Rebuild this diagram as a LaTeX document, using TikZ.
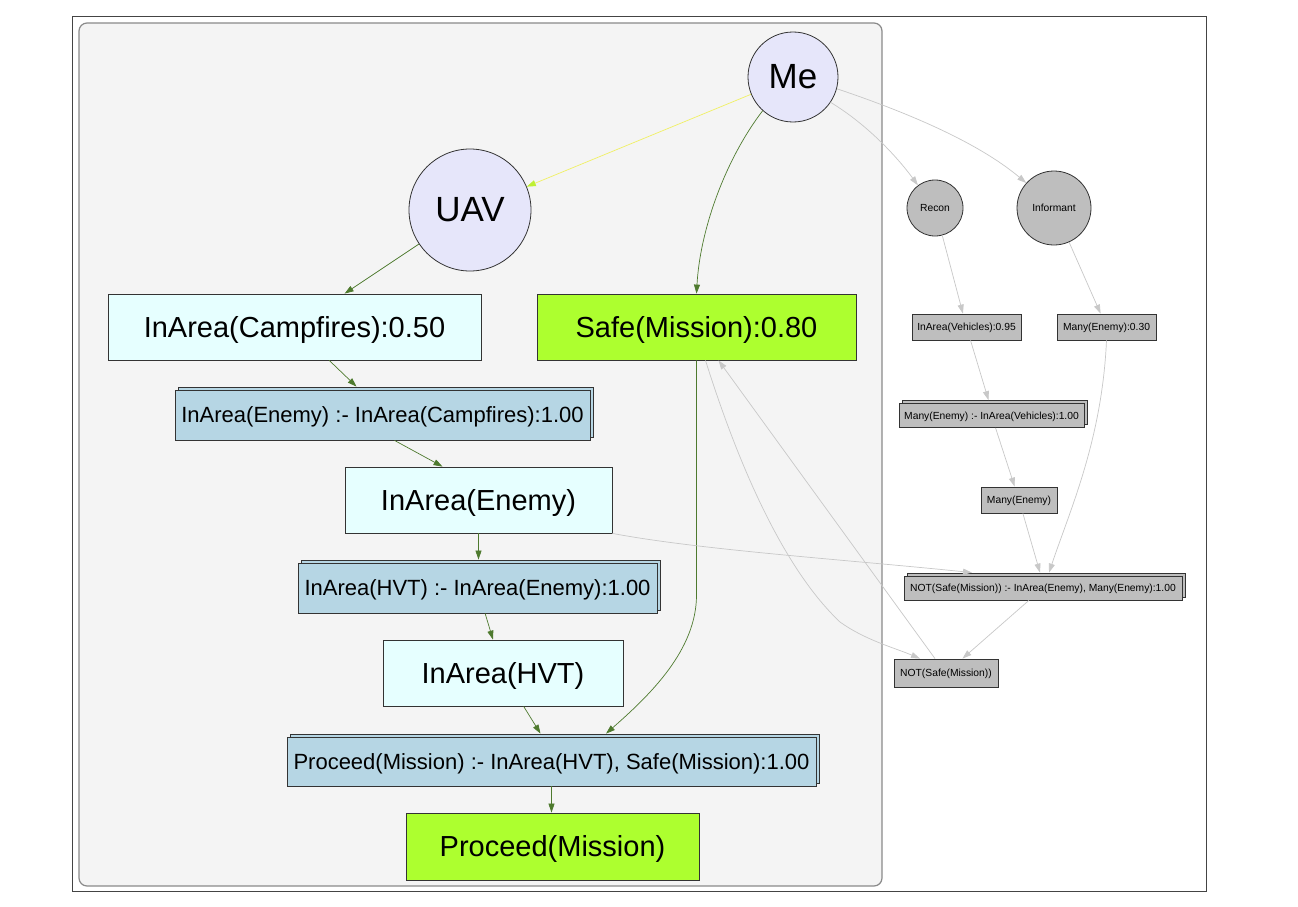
\documentclass[tikz,border=0pt]{standalone}
\usepackage{fontspec}
\setmainfont{Liberation Sans}
\usetikzlibrary{arrows.meta,shadows,calc}
\definecolor{lav}{RGB}{230,230,250}
\definecolor{cyanbox}{RGB}{230,255,255}
\definecolor{limebox}{RGB}{173,255,47}
\definecolor{ruleblue}{RGB}{182,214,228}
\definecolor{grayfill}{RGB}{190,190,190}
\definecolor{nodeborder}{RGB}{51,51,51}
\definecolor{edgegreen}{RGB}{78,122,46}
\definecolor{edgegray}{RGB}{200,200,200}
\definecolor{yline}{RGB}{240,240,100}
\definecolor{yhead}{RGB}{190,240,50}
\definecolor{clusterbg}{RGB}{244,244,244}
\definecolor{clusterline}{RGB}{138,138,138}
\definecolor{framecol}{RGB}{68,68,68}
\begin{document}
\begin{tikzpicture}[x=1pt,y=-1pt,
  circ/.style={circle, draw=nodeborder, line width=0.8pt, inner sep=0pt},
  mecirc/.style={circ, fill=lav, font=\fontsize{35}{40}\selectfont},
  graycirc/.style={circ, fill=grayfill, font=\fontsize{10.3}{12}\selectfont},
  bigbox/.style={rectangle, draw=nodeborder, line width=0.8pt, inner sep=0pt,
    text height=20.8pt, text depth=0pt, font=\fontsize{29}{34}\selectfont},
  rulebox/.style={rectangle, draw=nodeborder, line width=0.8pt, inner sep=0pt, fill=ruleblue,
    text height=15.75pt, text depth=0pt,
    copy shadow={shadow xshift=3pt, shadow yshift=3pt, fill=ruleblue, draw=nodeborder, line width=0.8pt},
    font=\fontsize{22}{26}\selectfont},
  smallbox/.style={rectangle, draw=nodeborder, line width=0.8pt, inner sep=0pt, fill=grayfill,
    text height=7.4pt, text depth=0pt, font=\fontsize{10.3}{12}\selectfont},
  smallrule/.style={smallbox,
    copy shadow={shadow xshift=3pt, shadow yshift=3pt, fill=grayfill, draw=nodeborder, line width=0.8pt}},
  gedge/.style={draw=edgegreen, line width=0.7pt, -{Triangle[length=9pt,width=6pt]}},
  lgedge/.style={draw=edgegray, line width=0.7pt, -{Triangle[length=9pt,width=6pt]}},
  yedge/.style={draw=yline, line width=0.7pt, -{Triangle[length=9pt,width=6pt,fill=yhead,color=yhead]}}
]
\useasboundingbox (0,0) rectangle (1298,907);
\fill[white] (0,0) rectangle (1298,907);
\draw[framecol, line width=0.8pt] (72,16) rectangle (1206,891);
\draw[clusterline, fill=clusterbg, line width=1.2pt, rounded corners=8pt] (79,23) rectangle (882,886);

% nodes
\node[mecirc, minimum size=90pt] (Me) at (793,77) {Me};
\node[mecirc, minimum size=122pt] (UAV) at (470,210) {UAV};
\node[graycirc, minimum size=56pt] (Recon) at (935,208) {Recon};
\node[graycirc, minimum size=74pt] (Inf) at (1054,208) {Informant};
\node[bigbox, fill=cyanbox, minimum width=373pt, minimum height=66pt] (Camp) at (294.5,327) {InArea(Campfires):0.50};
\node[bigbox, fill=limebox, minimum width=319pt, minimum height=66pt] (Safe) at (696.5,327) {Safe(Mission):0.80};
\node[rulebox, minimum width=415pt, minimum height=50pt] (R1) at (382.5,415) {InArea(Enemy) :- InArea(Campfires):1.00};
\node[bigbox, fill=cyanbox, minimum width=267pt, minimum height=66pt] (IAE) at (478.5,500) {InArea(Enemy)};
\node[rulebox, minimum width=359pt, minimum height=50pt] (R2) at (477.5,588) {InArea(HVT) :- InArea(Enemy):1.00};
\node[bigbox, fill=cyanbox, minimum width=240pt, minimum height=66pt] (HVT) at (503,673) {InArea(HVT)};
\node[rulebox, minimum width=529pt, minimum height=49pt] (R3) at (551.5,761.5) {Proceed(Mission) :- InArea(HVT), Safe(Mission):1.00};
\node[bigbox, fill=limebox, minimum width=293pt, minimum height=67pt] (Proc) at (552.5,846.5) {Proceed(Mission)};
\node[smallbox, minimum width=109pt, minimum height=26pt] (Veh) at (966.5,327) {InArea(Vehicles):0.95};
\node[smallbox, minimum width=99pt, minimum height=26pt] (M30) at (1106.5,327) {Many(Enemy):0.30};
\node[smallrule, minimum width=185pt, minimum height=24pt] (MR) at (991.5,415.5) {Many(Enemy) :- InArea(Vehicles):1.00};
\node[smallbox, minimum width=76pt, minimum height=26pt] (ME) at (1019,500) {Many(Enemy)};
\node[smallrule, minimum width=278pt, minimum height=24pt] (NR) at (1043,588) {NOT(Safe(Mission)) :- InArea(Enemy), Many(Enemy):1.00};
\node[smallbox, minimum width=104pt, minimum height=28pt] (NS) at (946,673) {NOT(Safe(Mission))};

% edges
\draw[yedge] (Me) -- (UAV);
\draw[gedge] (Me.228) .. controls (725,160) and (700,230) .. (Safe.north);
\draw[lgedge] (Me.-34) .. controls (868,125) and (898,158) .. (Recon.127);
\draw[lgedge] (Me.-15) .. controls (900,110) and (975,140) .. (Inf.138);
\draw[gedge] (UAV) -- (Camp);
\draw[gedge] (Camp) -- ($(R1.north)+(-26,-3)$);
\draw[gedge] ($(R1.south)+(12,0)$) -- ($(IAE.north)+(-36,0)$);
\draw[gedge] (IAE.south) -- ($(IAE.south |- R2.north)+(0,-3)$);
\draw[gedge] (R2) -- (HVT);
\draw[gedge] (HVT) -- ($(R3.north)+(-11,-3)$);
\draw[gedge] (Safe.south) -- (696.5,595) .. controls (696.5,650) and (650,695) .. ($(R3.north)+(54.5,-3)$);
\draw[gedge] (R3.south) -- (R3.south |- Proc.north);
\draw[lgedge] (Recon) -- (Veh);
\draw[lgedge] (Inf) -- (M30);
\draw[lgedge] (Veh) -- ($(MR.north)+(-3,-3)$);
\draw[lgedge] (MR) -- (ME);
\draw[lgedge] (ME) -- ($(NR.north)+(-3,-3)$);
\draw[lgedge] (M30.south) .. controls (1102,440) and (1070,510) .. ($(NR.north)+(6,-3)$);
\draw[lgedge] (IAE.south east) .. controls (700,550) and (850,560) .. ($(NR.north)+(-71,-3)$);
\draw[lgedge] (NR) -- (NS);
\draw[lgedge] ($(Safe.south)+(9,0)$) .. controls (740,470) and (785,570) .. (840,622) .. controls (865,640) and (895,648) .. ($(NS.north)+(-26,0)$);
\draw[lgedge] ($(NS.north)+(-11,0)$) -- ($(Safe.south)+(22,0)$);
\end{tikzpicture}
\end{document}
